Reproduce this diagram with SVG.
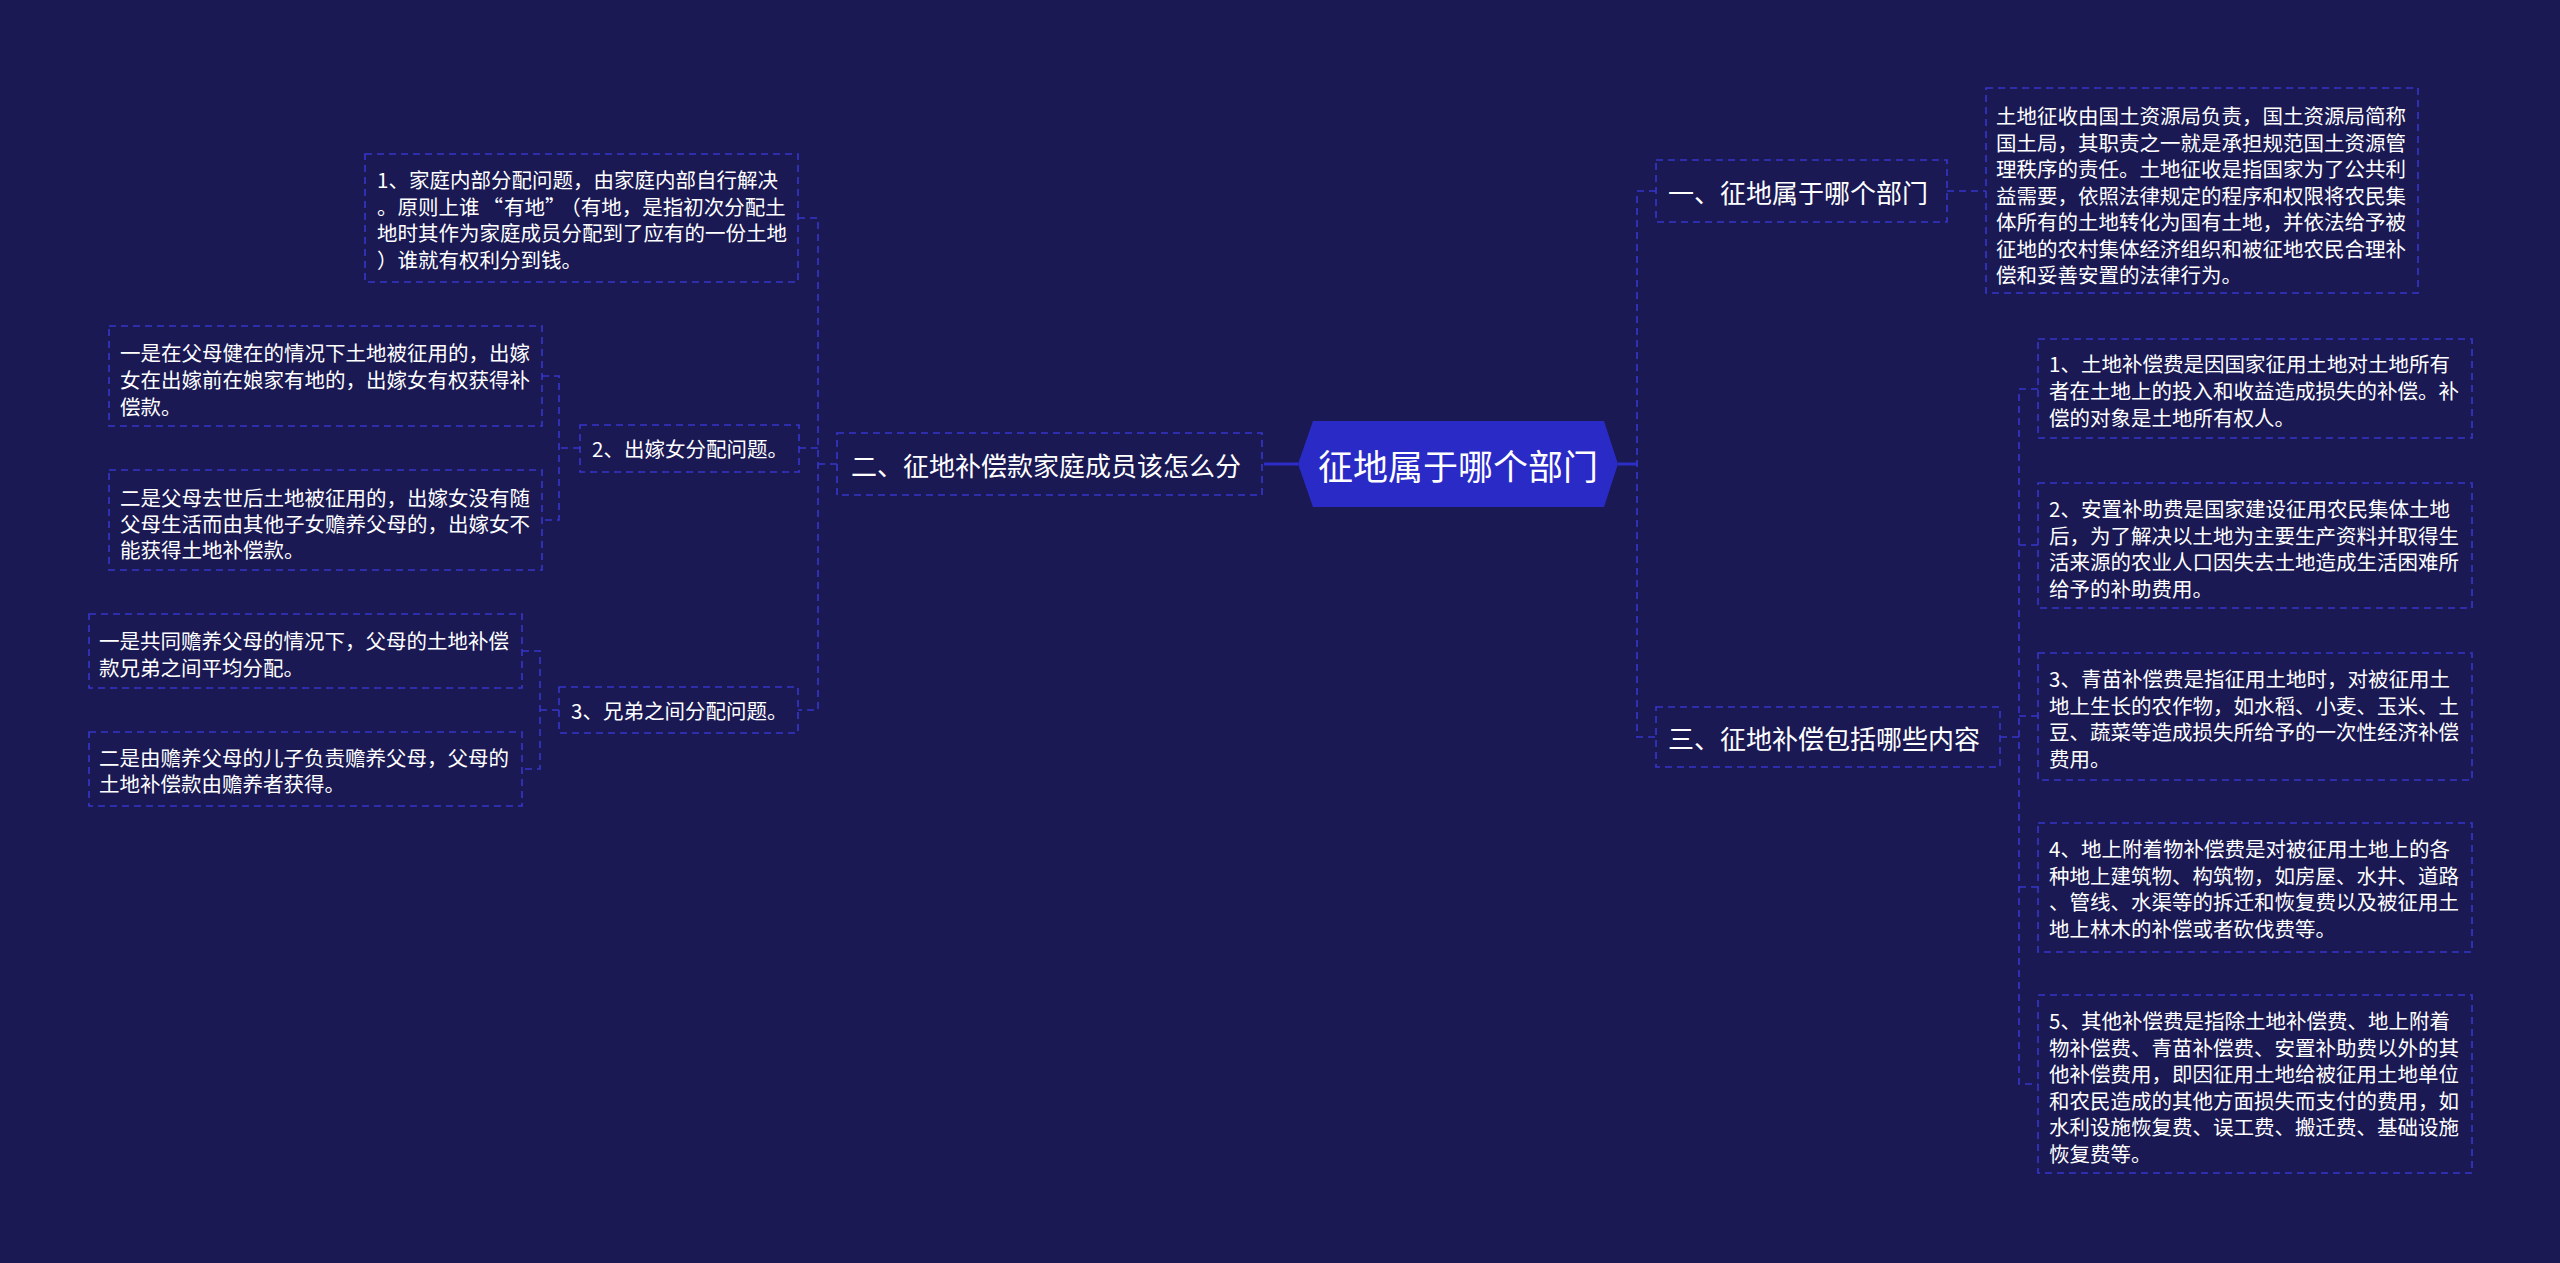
<svg xmlns="http://www.w3.org/2000/svg" width="2560" height="1263" viewBox="0 0 2560 1263">
<style>
.bg{fill:#1a1953}
.box{fill:none;stroke:#3636cc;stroke-width:1.6;stroke-dasharray:7 5}
.con{fill:none;stroke:#3636cc;stroke-width:1.6;stroke-dasharray:7 5}
.solid{fill:none;stroke:#2d2dc8;stroke-width:3}
.t{font-family:"Microsoft YaHei","Noto Sans CJK SC",sans-serif;fill:#ffffff;dominant-baseline:central}
.s{font-size:20.5px}
.m{font-size:26px}
.r{font-size:35px}
</style>
<rect class="bg" x="0" y="0" width="2560" height="1263"/>
<g id="connectors">
<path class="solid" d="M1618,464 H1637"/>
<path class="solid" d="M1298,464 H1264"/>
<path class="con" d="M1656,191 H1637 V737 H1656"/>
<path class="con" d="M1947,191 H1986"/>
<path class="con" d="M2000,737 H2019"/>
<path class="con" d="M2038,389 H2019 V1084 H2038"/>
<path class="con" d="M2019,545 H2038 M2019,716 H2038 M2019,887 H2038"/>
<path class="con" d="M837,464 H818"/>
<path class="con" d="M798,218 H818 V710 H798"/>
<path class="con" d="M818,448 H799"/>
<path class="con" d="M580,448 H559"/>
<path class="con" d="M542,376 H559 V520 H542"/>
<path class="con" d="M559,710 H540"/>
<path class="con" d="M522,651 H540 V769 H522"/>
</g>
<g id="root">
<polygon points="1298,464 1313,421 1604,421 1618,464 1604,507 1313,507" fill="#2a2ac6"/>
<text class="t r" x="1458" y="464" text-anchor="middle">征地属于哪个部门</text>
</g>
<g id="n1">
<rect class="box" x="1656" y="160" width="291" height="62"/>
<text class="t m" x="1668" y="191">一、征地属于哪个部门</text>
</g>
<g id="n1a">
<rect class="box" x="1986" y="88" width="432" height="205"/>
<text class="t s" x="1996" y="115">土地征收由国土资源局负责，国土资源局简称</text>
<text class="t s" x="1996" y="141.5">国土局，其职责之一就是承担规范国土资源管</text>
<text class="t s" x="1996" y="168">理秩序的责任。土地征收是指国家为了公共利</text>
<text class="t s" x="1996" y="194.5">益需要，依照法律规定的程序和权限将农民集</text>
<text class="t s" x="1996" y="221">体所有的土地转化为国有土地，并依法给予被</text>
<text class="t s" x="1996" y="247.5">征地的农村集体经济组织和被征地农民合理补</text>
<text class="t s" x="1996" y="274">偿和妥善安置的法律行为。</text>
</g>
<g id="n3">
<rect class="box" x="1656" y="707" width="344" height="60"/>
<text class="t m" x="1668" y="737">三、征地补偿包括哪些内容</text>
</g>
<g id="n3a">
<rect class="box" x="2038" y="339" width="434" height="99"/>
<text class="t s" x="2049" y="363">1、土地补偿费是因国家征用土地对土地所有</text>
<text class="t s" x="2049" y="390">者在土地上的投入和收益造成损失的补偿。补</text>
<text class="t s" x="2049" y="417">偿的对象是土地所有权人。</text>
</g>
<g id="n3b">
<rect class="box" x="2038" y="483" width="434" height="125"/>
<text class="t s" x="2049" y="508">2、安置补助费是国家建设征用农民集体土地</text>
<text class="t s" x="2049" y="534.5">后，为了解决以土地为主要生产资料并取得生</text>
<text class="t s" x="2049" y="561">活来源的农业人口因失去土地造成生活困难所</text>
<text class="t s" x="2049" y="587.5">给予的补助费用。</text>
</g>
<g id="n3c">
<rect class="box" x="2038" y="653" width="434" height="127"/>
<text class="t s" x="2049" y="678">3、青苗补偿费是指征用土地时，对被征用土</text>
<text class="t s" x="2049" y="704.5">地上生长的农作物，如水稻、小麦、玉米、土</text>
<text class="t s" x="2049" y="731">豆、蔬菜等造成损失所给予的一次性经济补偿</text>
<text class="t s" x="2049" y="757.5">费用。</text>
</g>
<g id="n3d">
<rect class="box" x="2038" y="823" width="434" height="129"/>
<text class="t s" x="2049" y="848">4、地上附着物补偿费是对被征用土地上的各</text>
<text class="t s" x="2049" y="874.5">种地上建筑物、构筑物，如房屋、水井、道路</text>
<text class="t s" x="2049" y="901">、管线、水渠等的拆迁和恢复费以及被征用土</text>
<text class="t s" x="2049" y="927.5">地上林木的补偿或者砍伐费等。</text>
</g>
<g id="n3e">
<rect class="box" x="2038" y="995" width="434" height="178"/>
<text class="t s" x="2049" y="1020">5、其他补偿费是指除土地补偿费、地上附着</text>
<text class="t s" x="2049" y="1046.6">物补偿费、青苗补偿费、安置补助费以外的其</text>
<text class="t s" x="2049" y="1073.2">他补偿费用，即因征用土地给被征用土地单位</text>
<text class="t s" x="2049" y="1099.8">和农民造成的其他方面损失而支付的费用，如</text>
<text class="t s" x="2049" y="1126.4">水利设施恢复费、误工费、搬迁费、基础设施</text>
<text class="t s" x="2049" y="1153">恢复费等。</text>
</g>
<g id="n2">
<rect class="box" x="837" y="433" width="425" height="62"/>
<text class="t m" x="851" y="464">二、征地补偿款家庭成员该怎么分</text>
</g>
<g id="n2a">
<rect class="box" x="365" y="154" width="433" height="128"/>
<text class="t s" x="377" y="179">1、家庭内部分配问题，由家庭内部自行解决</text>
<text class="t s" x="377" y="205.5">。原则上谁<tspan dx="3">“</tspan><tspan dx="1">有地</tspan>”<tspan dx="5">（有地，是指初次分配土</tspan></text>
<text class="t s" x="377" y="232">地时其作为家庭成员分配到了应有的一份土地</text>
<text class="t s" x="377" y="258.5">）谁就有权利分到钱。</text>
</g>
<g id="n2b">
<rect class="box" x="580" y="425" width="219" height="47"/>
<text class="t s" x="592" y="448">2、出嫁女分配问题。</text>
</g>
<g id="n2b1">
<rect class="box" x="109" y="326" width="433" height="100"/>
<text class="t s" x="120" y="352">一是在父母健在的情况下土地被征用的，出嫁</text>
<text class="t s" x="120" y="379">女在出嫁前在娘家有地的，出嫁女有权获得补</text>
<text class="t s" x="120" y="406">偿款。</text>
</g>
<g id="n2b2">
<rect class="box" x="109" y="470" width="433" height="100"/>
<text class="t s" x="120" y="497">二是父母去世后土地被征用的，出嫁女没有随</text>
<text class="t s" x="120" y="523">父母生活而由其他子女赡养父母的，出嫁女不</text>
<text class="t s" x="120" y="549">能获得土地补偿款。</text>
</g>
<g id="n2c">
<rect class="box" x="559" y="687" width="239" height="46"/>
<text class="t s" x="571" y="710">3、兄弟之间分配问题。</text>
</g>
<g id="n2c1">
<rect class="box" x="89" y="614" width="433" height="74"/>
<text class="t s" x="99" y="640">一是共同赡养父母的情况下，父母的土地补偿</text>
<text class="t s" x="99" y="667">款兄弟之间平均分配。</text>
</g>
<g id="n2c2">
<rect class="box" x="89" y="732" width="433" height="74"/>
<text class="t s" x="99" y="757">二是由赡养父母的儿子负责赡养父母，父母的</text>
<text class="t s" x="99" y="783">土地补偿款由赡养者获得。</text>
</g>
</svg>
